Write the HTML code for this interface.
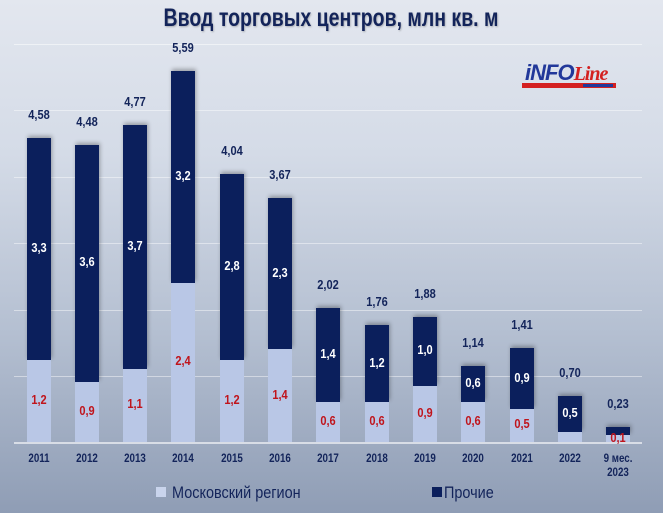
<!DOCTYPE html>
<html><head><meta charset="utf-8"><style>
body{margin:0}
#c{position:relative;width:663px;height:513px;overflow:hidden;background:linear-gradient(180deg,#e3e7ef 0%,#d4dbe7 30%,#b4bfd1 65%,#8f9db5 100%);font-family:"Liberation Sans",sans-serif;}
.t{position:absolute;white-space:nowrap;font-weight:bold;text-align:center;transform:translateX(-50%) scaleX(0.85);}
.g{position:absolute;left:14px;width:628px;height:1px;background:rgba(255,255,255,0.45)}
.b{position:absolute;width:24px}
</style></head><body><div id="c">
<div style="position:absolute;left:331px;top:4px;transform:translateX(-50%) scaleX(0.78);font-size:25px;font-weight:bold;color:#13245a;white-space:nowrap;text-shadow:1px 1px 2px rgba(0,0,0,0.25)">Ввод торговых центров, млн кв. м</div>
<div style="position:absolute;left:14px;top:44px;width:628px;height:1px;background:rgba(255,255,255,0.5)"></div>
<div style="position:absolute;left:525px;top:60px;font:bold italic 22px 'Liberation Sans',sans-serif;color:#22389a;letter-spacing:-1px">iNFO<span style="font-family:'Liberation Serif',serif;color:#d42020;font-size:20px">Line</span></div>
<div style="position:absolute;left:522px;top:83px;width:94px;height:5px;background:#d42020"></div>
<div style="position:absolute;left:583px;top:84px;width:30px;height:3px;background:#22389a"></div>
<div id="p"></div>
<div style="position:absolute;left:156px;top:487px;width:10px;height:10px;background:#c9d4ec"></div>
<div style="position:absolute;left:172px;top:483px;font-size:17px;color:#13245a;transform:scaleX(0.85);transform-origin:left;white-space:nowrap">Московский регион</div>
<div style="position:absolute;left:432px;top:487px;width:10px;height:10px;background:#0b1f5c"></div>
<div style="position:absolute;left:444px;top:483px;font-size:17px;color:#13245a;transform:scaleX(0.85);transform-origin:left;white-space:nowrap">Прочие</div>
</div>
<script>
var h='';[110,177,243,310,376].forEach(function(y){h+='<div class="g" style="top:'+y+'px"></div>'});
h+='<div class="g" style="top:442px;height:2px;background:rgba(255,255,255,0.6)"></div>';
var T=[4.58,4.48,4.77,5.59,4.04,3.67,2.02,1.76,1.88,1.14,1.41,0.70,0.23];
var M=[1.24,0.9,1.1,2.4,1.24,1.4,0.6,0.6,0.85,0.6,0.5,0.15,0.11];
var D=['3,3','3,6','3,7','3,2','2,8','2,3','1,4','1,2','1,0','0,6','0,9','0,5',''];
var L=['1,2','0,9','1,1','2,4','1,2','1,4','0,6','0,6','0,9','0,6','0,5','','0,1'];
var Y=['2011','2012','2013','2014','2015','2016','2017','2018','2019','2020','2021','2022','9 мес.<br>2023'];
var k=66.4,base=442;
for(var i=0;i<13;i++){var x=26.5+i*48.3,c=x+12,tt=base-T[i]*k,mt=base-M[i]*k;
h+='<div class="b" style="left:'+x+'px;top:'+tt+'px;height:'+(mt-tt)+'px;background:#0b1f5c;box-shadow:1px -2px 4px rgba(0,0,0,0.3)"></div>';
h+='<div class="b" style="left:'+x+'px;top:'+mt+'px;height:'+(base-mt)+'px;background:#b9c7e6"></div>';
h+='<div class="t" style="left:'+c+'px;top:'+(tt-31)+'px;font-size:13px;color:#13245a">'+T[i].toFixed(2).replace('.',',')+'</div>';
if(D[i])h+='<div class="t" style="left:'+c+'px;top:'+((tt+mt)/2-9)+'px;font-size:13px;color:#fff">'+D[i]+'</div>';
if(L[i])h+='<div class="t" style="left:'+c+'px;top:'+(i==12?430:((mt+base)/2-9))+'px;font-size:13px;color:#c0141c">'+L[i]+'</div>';
h+='<div class="t" style="left:'+c+'px;top:452px;font-size:11.5px;line-height:14px;color:#13245a">'+Y[i]+'</div>';}
document.getElementById('p').innerHTML=h;
</script></body></html>
